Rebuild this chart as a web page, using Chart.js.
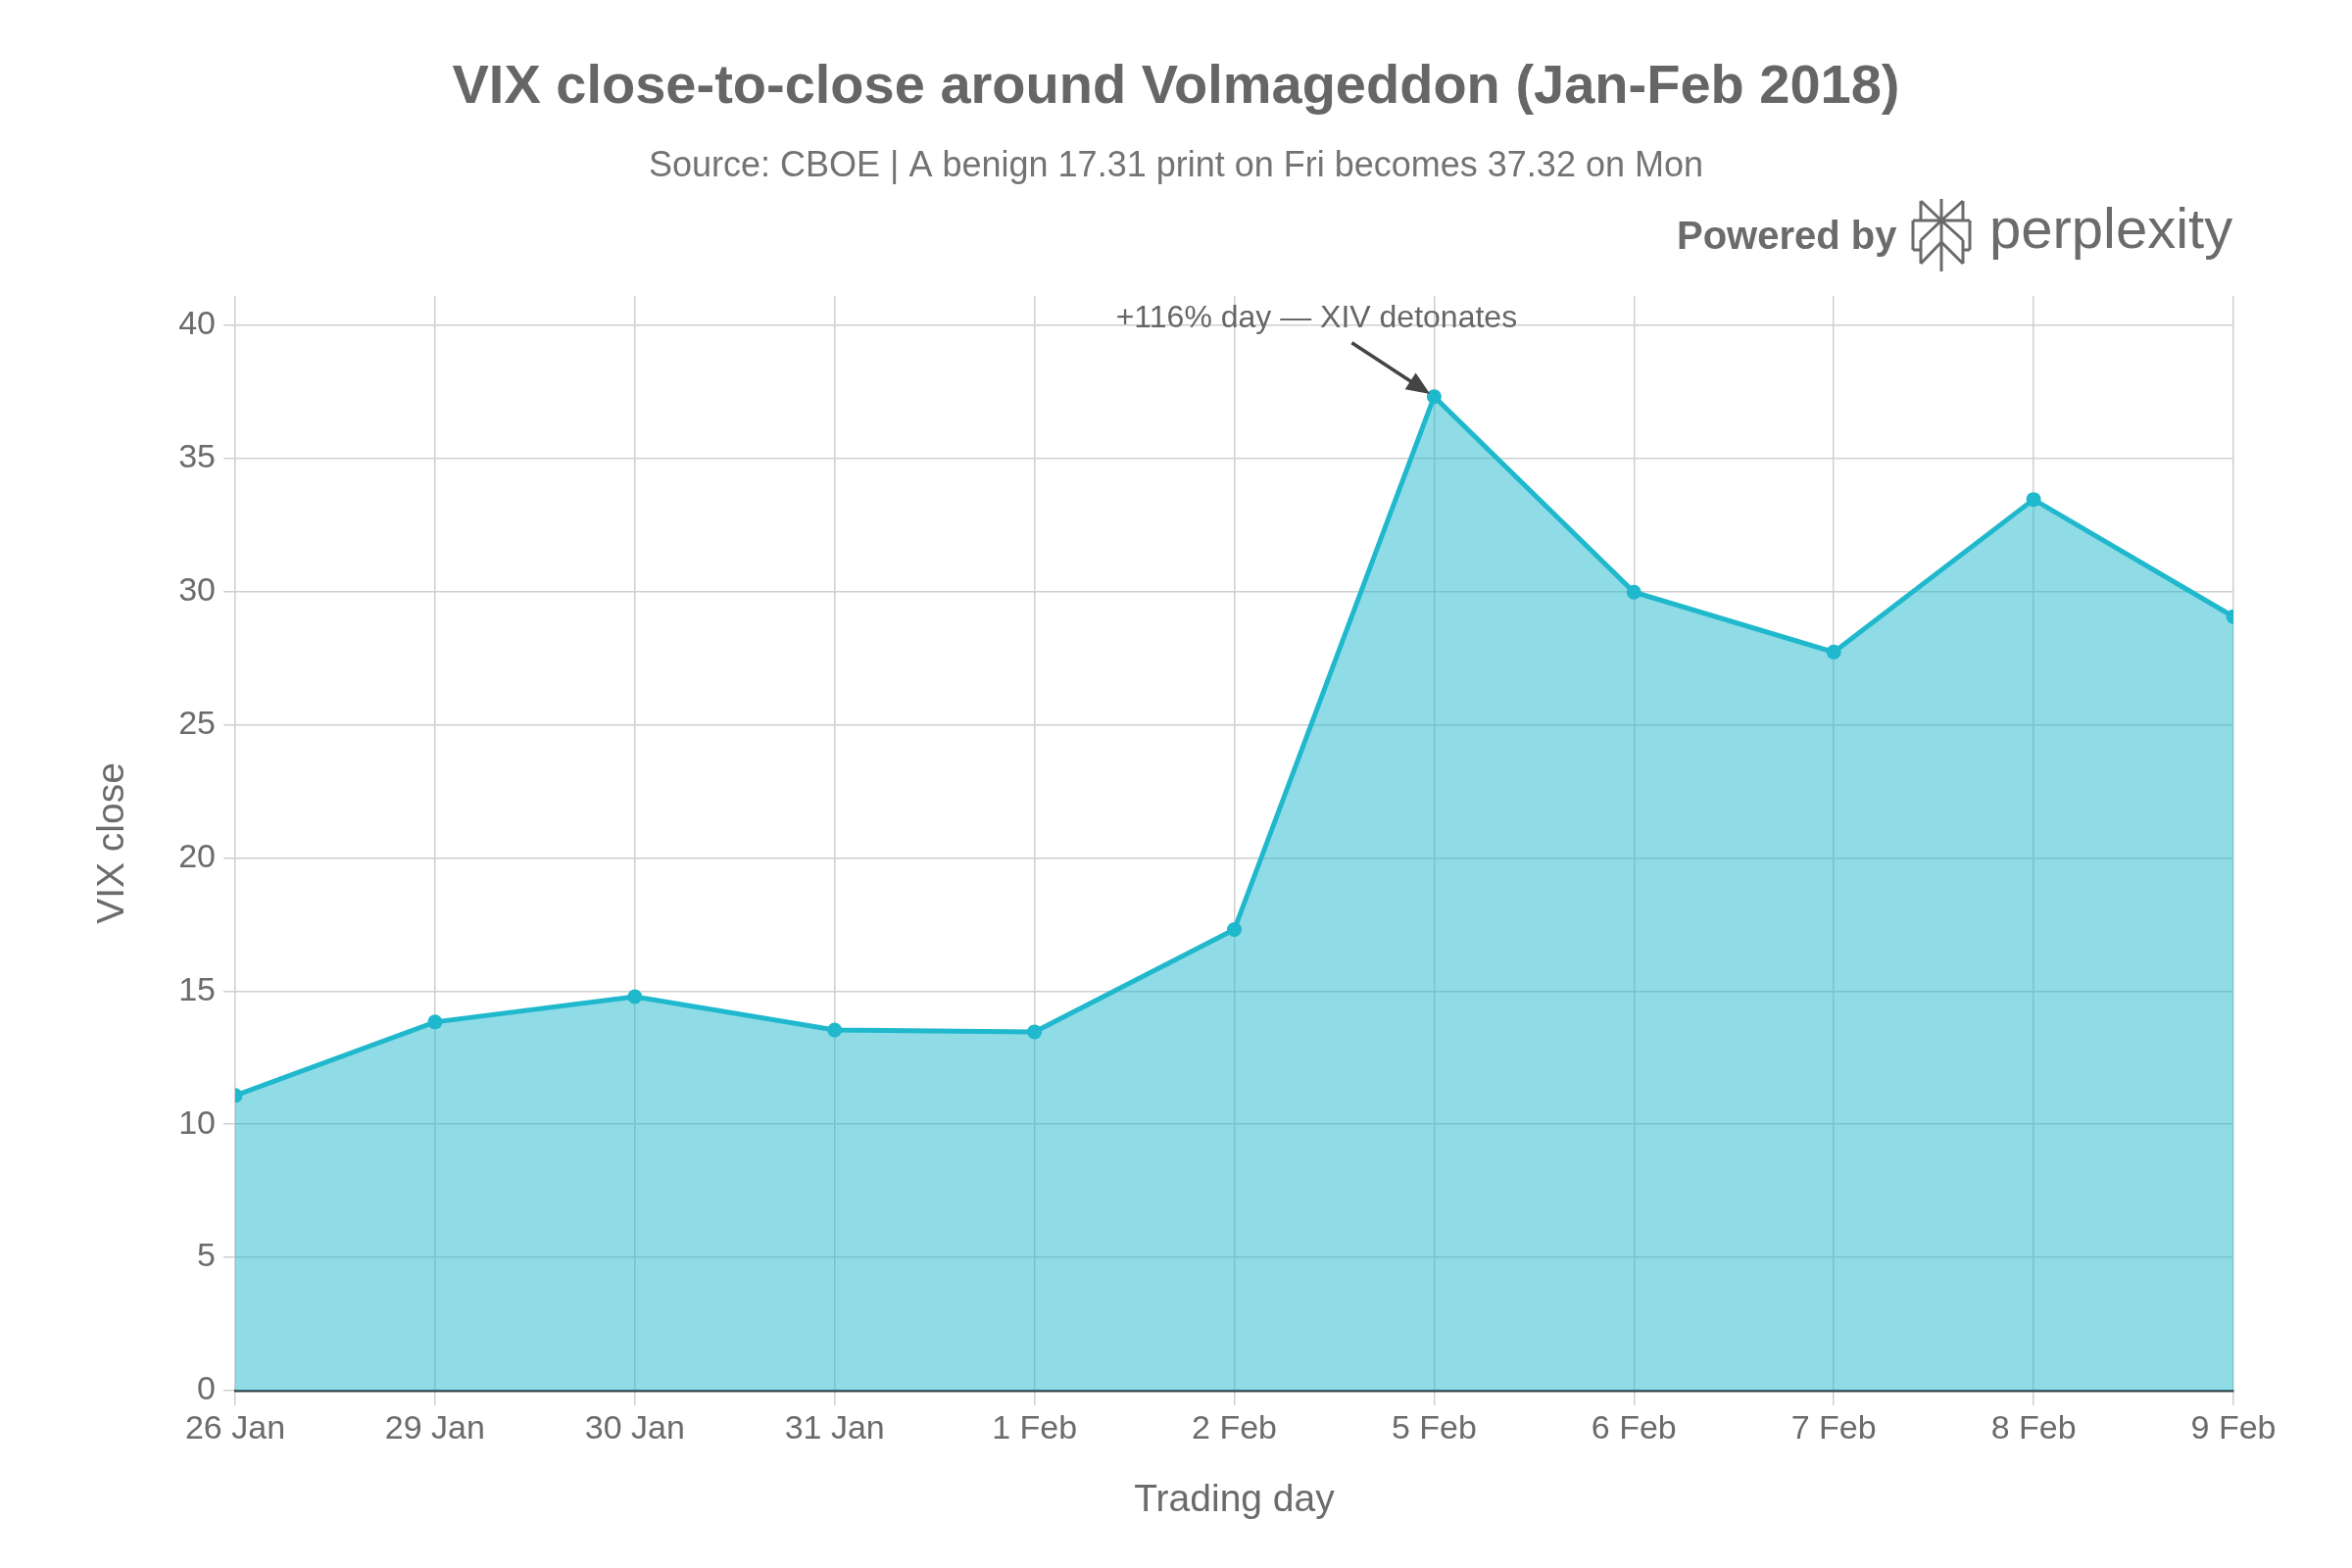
<!DOCTYPE html>
<html>
<head>
<meta charset="utf-8">
<script src="https://cdn.jsdelivr.net/npm/chart.js@4.4.1/dist/chart.umd.min.js"></script>
<style>
  html, body { margin: 0; padding: 0; background: #fff; }
  #wrap { width: 2400px; height: 1600px; }
</style>
</head>
<body>
<div id="wrap"><canvas id="myChart" width="2400" height="1600"></canvas></div>
<script>
// VIX daily closes, late Jan - early Feb 2018
const days = ['26 Jan', '29 Jan', '30 Jan', '31 Jan', '1 Feb', '2 Feb', '5 Feb', '6 Feb', '7 Feb', '8 Feb', '9 Feb'];
const vixClose = [11.08, 13.84, 14.79, 13.54, 13.47, 17.31, 37.32, 29.98, 27.73, 33.46, 29.06];
const yTicks = [0, 5, 10, 15, 20, 25, 30, 35, 40];

const titleText = 'VIX close-to-close around Volmageddon (Jan-Feb 2018)';
const subtitleText = 'Source: CBOE | A benign 17.31 print on Fri becomes 37.32 on Mon';
const noteText = '+116% day \u2014 XIV detonates';
const noteIndex = 6;

const FONT = '"Liberation Sans", Arial, sans-serif';
const TEAL = 'rgb(31, 184, 205)';

function drawLogo(ctx) {
    ctx.save();
    ctx.fillStyle = '#6b6b6b';
    ctx.strokeStyle = '#6b6b6b';
    ctx.textBaseline = 'middle';
    ctx.textAlign = 'left';
    ctx.font = 'bold 40px ' + FONT;
    ctx.fillText('Powered by', 1711, 243);

    // perplexity mark (rough line drawing)
    const ox = 1940, oy = 195;
    const seg = [
        [41, 8, 41, 82],
        [20, 10, 20, 30], [20, 10, 41, 30],
        [63, 10, 63, 30], [63, 10, 41, 30],
        [12, 30, 70, 30],
        [12, 30, 12, 60], [70, 30, 70, 60],
        [12, 60, 20, 60], [63, 60, 70, 60],
        [41, 30, 20, 50], [41, 30, 63, 50],
        [20, 50, 20, 74], [63, 50, 63, 74],
        [20, 74, 41, 52], [63, 74, 41, 52]
    ];
    ctx.lineWidth = 3;
    ctx.beginPath();
    seg.forEach(s => { ctx.moveTo(ox + s[0], oy + s[1]); ctx.lineTo(ox + s[2], oy + s[3]); });
    ctx.stroke();

    ctx.font = '58px ' + FONT;
    ctx.fillText('perplexity', 2030, 237);
    ctx.restore();
}

const headerPlugin = {
    id: 'header',
    afterDraw(chart) {
        const ctx = chart.ctx;
        ctx.save();
        ctx.textAlign = 'center';
        ctx.textBaseline = 'middle';
        ctx.fillStyle = '#666666';
        ctx.font = 'bold 56px ' + FONT;
        ctx.fillText(titleText, 1200, 90);
        ctx.fillStyle = '#737373';
        ctx.font = '36px ' + FONT;
        ctx.fillText(subtitleText, 1200, 170);
        ctx.restore();
        drawLogo(ctx);

        // annotation arrow pointing at the 5 Feb close
        const xs = chart.scales.x, ys = chart.scales.y;
        const px = xs.getPixelForValue(noteIndex);
        const py = ys.getPixelForValue(vixClose[noteIndex]);
        const tx = px - 84, ty = py - 55;
        ctx.save();
        ctx.strokeStyle = '#444444';
        ctx.fillStyle = '#444444';
        ctx.lineWidth = 3.5;
        const ang = Math.atan2(py - ty, px - tx);
        const hx = px - 5 * Math.cos(ang), hy = py - 5 * Math.sin(ang);
        ctx.beginPath();
        ctx.moveTo(tx, ty);
        ctx.lineTo(hx - 16 * Math.cos(ang), hy - 16 * Math.sin(ang));
        ctx.stroke();
        ctx.beginPath();
        ctx.moveTo(hx, hy);
        ctx.lineTo(hx - 24 * Math.cos(ang) + 10 * Math.sin(ang), hy - 24 * Math.sin(ang) - 10 * Math.cos(ang));
        ctx.lineTo(hx - 24 * Math.cos(ang) - 10 * Math.sin(ang), hy - 24 * Math.sin(ang) + 10 * Math.cos(ang));
        ctx.closePath();
        ctx.fill();
        ctx.fillStyle = '#666666';
        ctx.font = '32px ' + FONT;
        ctx.textAlign = 'center';
        ctx.textBaseline = 'middle';
        ctx.fillText(noteText, px - 120, py - 80);
        ctx.restore();
    }
};

const ctx = document.getElementById('myChart');
new Chart(ctx, {
    type: 'line',
    data: {
        labels: days,
        datasets: [{
            label: 'VIX close',
            data: vixClose,
            fill: 'origin',
            backgroundColor: 'rgba(31, 184, 205, 0.5)',
            borderColor: TEAL,
            borderWidth: 5,
            pointRadius: 7.5,
            pointBackgroundColor: TEAL,
            pointBorderWidth: 0,
            tension: 0,
            clip: 0
        }]
    },
    options: {
        responsive: false,
        animation: false,
        layout: { padding: { top: 302, right: 121, bottom: 0, left: 0 } },
        plugins: {
            legend: { display: false },
            tooltip: { enabled: false }
        },
        scales: {
            x: {
                offset: false,
                grid: { color: '#cfcfcf', lineWidth: 1.5, tickLength: 15, tickColor: '#cfcfcf' },
                border: { display: true, color: '#3a3a3a', width: 2.5 },
                ticks: { color: '#6b6b6b', font: { family: FONT, size: 34 }, padding: 4, maxRotation: 0, autoSkip: false },
                title: { display: true, text: 'Trading day', color: '#6b6b6b', font: { family: FONT, size: 39 }, padding: { top: 0, bottom: 45 } },
                afterFit: (s) => { s.height = 181; }
            },
            y: {
                min: 0,
                max: 41.1,
                grid: { color: '#cfcfcf', lineWidth: 1.5, tickLength: 12, tickColor: '#cfcfcf' },
                border: { display: false },
                ticks: { stepSize: 5, color: '#6b6b6b', font: { family: FONT, size: 34 }, padding: 8 },
                afterBuildTicks: (s) => { s.ticks = yTicks.map(v => ({ value: v })); },
                title: { display: true, text: 'VIX close', color: '#6b6b6b', font: { family: FONT, size: 39 }, padding: { top: 92, bottom: 0 } },
                afterFit: (s) => { s.width = 240; }
            }
        }
    },
    plugins: [headerPlugin]
});
</script>
</body>
</html>
